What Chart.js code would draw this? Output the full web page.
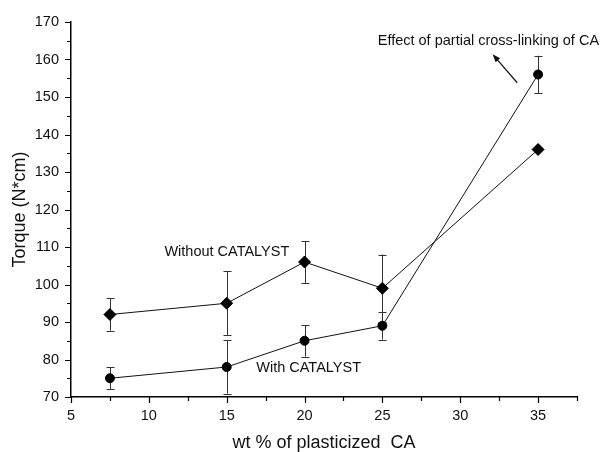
<!DOCTYPE html>
<html><head><meta charset="utf-8">
<script src="https://cdn.jsdelivr.net/npm/chart.js@4.4.1/dist/chart.umd.min.js"></script>
<style>html,body{margin:0;padding:0;background:#fff}#wrap{width:605px;height:452px;position:relative}</style>
</head><body><div id="wrap"><canvas id="c" width="605" height="452"></canvas></div>
<script>
// ---- data ----
const wtPercent      = [7.5, 15, 20, 25, 35];
const torqueWithout  = [92, 95, 106, 99, 136];
const errWithout     = [4.3, 8.5, 5.6, 9, 0];
const torqueWith     = [75, 78, 85, 89, 156];
const errWith        = [2.9, 7.1, 4.2, 3.7, 5];
const xTickLabels    = [5, 10, 15, 20, 25, 30, 35];
const yTickLabels    = [70, 80, 90, 100, 110, 120, 130, 140, 150, 160, 170];
const labelWithout   = 'Without CATALYST';
const labelWith      = 'With CATALYST';
const labelEffect    = 'Effect of partial cross-linking of CA';

// annotation placement (data coordinates)
const notes = [
  {text: labelWithout, x: 11.0, y: 108.7},
  {text: labelWith, x: 16.9, y: 77.8},
  {text: labelEffect, x: 24.7, y: 165.0}
];
const arrow = {x1: 33.66, y1: 153.8, x2: 32.08, y2: 161.4};

const FONT = '"Liberation Sans", Arial, sans-serif';
const INK = '#111';

const pts = (xs, ys) => xs.map((x, i) => ({x, y: ys[i]}));

const errorBars = {
  id: 'errorBars',
  beforeDatasetsDraw(chart) {
    const {ctx, scales: {x, y}} = chart;
    ctx.save();
    ctx.strokeStyle = '#333';
    ctx.lineWidth = 1;
    const series = [[torqueWithout, errWithout], [torqueWith, errWith]];
    series.forEach(([vals, errs]) => {
      vals.forEach((v, i) => {
        if (!errs[i]) return;
        const px = Math.round(x.getPixelForValue(wtPercent[i])) + 0.5;
        const top = y.getPixelForValue(v + errs[i]);
        const bot = y.getPixelForValue(v - errs[i]);
        ctx.beginPath();
        ctx.moveTo(px, top); ctx.lineTo(px, bot);
        ctx.moveTo(px - 4, Math.round(top) + 0.5); ctx.lineTo(px + 4, Math.round(top) + 0.5);
        ctx.moveTo(px - 4, Math.round(bot) + 0.5); ctx.lineTo(px + 4, Math.round(bot) + 0.5);
        ctx.stroke();
      });
    });
    ctx.restore();
  }
};

const extras = {
  id: 'extras',
  afterDraw(chart) {
    const {ctx, scales: {x, y}, chartArea} = chart;
    ctx.save();
    // tick marks (major + minor), outward
    ctx.strokeStyle = '#000';
    ctx.lineWidth = 1.2;
    ctx.beginPath();
    for (let v = x.min; v <= x.max + 1e-9; v += 2.5) {
      const px = Math.round(x.getPixelForValue(v)) + 0.5;
      const len = (Math.abs(v % 5) < 1e-9) ? 6 : 4;
      ctx.moveTo(px, chartArea.bottom); ctx.lineTo(px, chartArea.bottom + len);
    }
    for (let v = y.min; v <= y.max + 1e-9; v += 5) {
      const py = Math.round(y.getPixelForValue(v)) + 0.5;
      const len = (Math.abs(v % 10) < 1e-9) ? 6 : 4;
      ctx.moveTo(chartArea.left, py); ctx.lineTo(chartArea.left - len, py);
    }
    ctx.stroke();

    // annotations
    ctx.fillStyle = INK;
    ctx.font = '14.5px ' + FONT;
    ctx.textBaseline = 'middle';
    ctx.textAlign = 'left';
    notes.forEach(n => ctx.fillText(n.text, x.getPixelForValue(n.x), y.getPixelForValue(n.y)));

    // arrow
    const ax1 = x.getPixelForValue(arrow.x1), ay1 = y.getPixelForValue(arrow.y1);
    const ax2 = x.getPixelForValue(arrow.x2), ay2 = y.getPixelForValue(arrow.y2);
    const ang = Math.atan2(ay2 - ay1, ax2 - ax1);
    const hl = 8, hw = 3;
    ctx.strokeStyle = INK; ctx.lineWidth = 1.2;
    ctx.beginPath();
    ctx.moveTo(ax1, ay1);
    ctx.lineTo(ax2 - Math.cos(ang) * hl * 0.8, ay2 - Math.sin(ang) * hl * 0.8);
    ctx.stroke();
    ctx.beginPath();
    ctx.moveTo(ax2, ay2);
    ctx.lineTo(ax2 - Math.cos(ang) * hl - Math.sin(ang) * hw, ay2 - Math.sin(ang) * hl + Math.cos(ang) * hw);
    ctx.lineTo(ax2 - Math.cos(ang) * hl + Math.sin(ang) * hw, ay2 - Math.sin(ang) * hl - Math.cos(ang) * hw);
    ctx.closePath();
    ctx.fill();
    ctx.restore();
  }
};

new Chart(document.getElementById('c'), {
  type: 'line',
  data: {
    datasets: [
      {
        label: labelWithout,
        data: pts(wtPercent, torqueWithout),
        borderColor: INK, borderWidth: 1,
        pointStyle: 'rectRot', pointRadius: 6, pointBorderWidth: 1,
        pointBackgroundColor: '#000', pointBorderColor: '#000',
        fill: false, tension: 0
      },
      {
        label: labelWith,
        data: pts(wtPercent, torqueWith),
        borderColor: INK, borderWidth: 1,
        pointStyle: 'circle', pointRadius: 4.5, pointBorderWidth: 1,
        pointBackgroundColor: '#000', pointBorderColor: '#000',
        fill: false, tension: 0
      }
    ]
  },
  options: {
    responsive: false,
    devicePixelRatio: 1,
    animation: false,
    layout: {padding: {top: 22, right: 28, left: 0, bottom: 0}},
    plugins: {legend: {display: false}, tooltip: {enabled: false}},
    scales: {
      x: {
        type: 'linear', min: 5, max: 37.5,
        grid: {display: false, drawTicks: false},
        border: {display: true, color: '#000', width: 1.5},
        afterBuildTicks: s => { s.ticks = xTickLabels.map(v => ({value: v})); },
        ticks: {
          padding: 10, color: INK,
          font: {family: FONT, size: 14.5},
          maxRotation: 0, autoSkip: false,
          callback: v => String(v)
        },
        title: {display: true, text: 'wt % of plasticized  CA', color: INK,
          font: {family: FONT, size: 18, lineHeight: 1}, padding: {top: 0, bottom: 0}},
        afterFit: s => { s.height = 55; }
      },
      y: {
        type: 'linear', min: 70, max: 170,
        grid: {display: false, drawTicks: false},
        border: {display: true, color: '#000', width: 1.5},
        afterBuildTicks: s => { s.ticks = yTickLabels.map(v => ({value: v})); },
        ticks: {
          padding: 12, color: INK,
          font: {family: FONT, size: 14.5},
          callback: v => String(v)
        },
        title: {display: true, text: 'Torque (N*cm)', color: INK,
          font: {family: FONT, size: 18, lineHeight: 1}, padding: {top: 11, bottom: 0}},
        afterFit: s => { s.width = 71; }
      }
    }
  },
  plugins: [errorBars, extras]
});
</script>
</body></html>
